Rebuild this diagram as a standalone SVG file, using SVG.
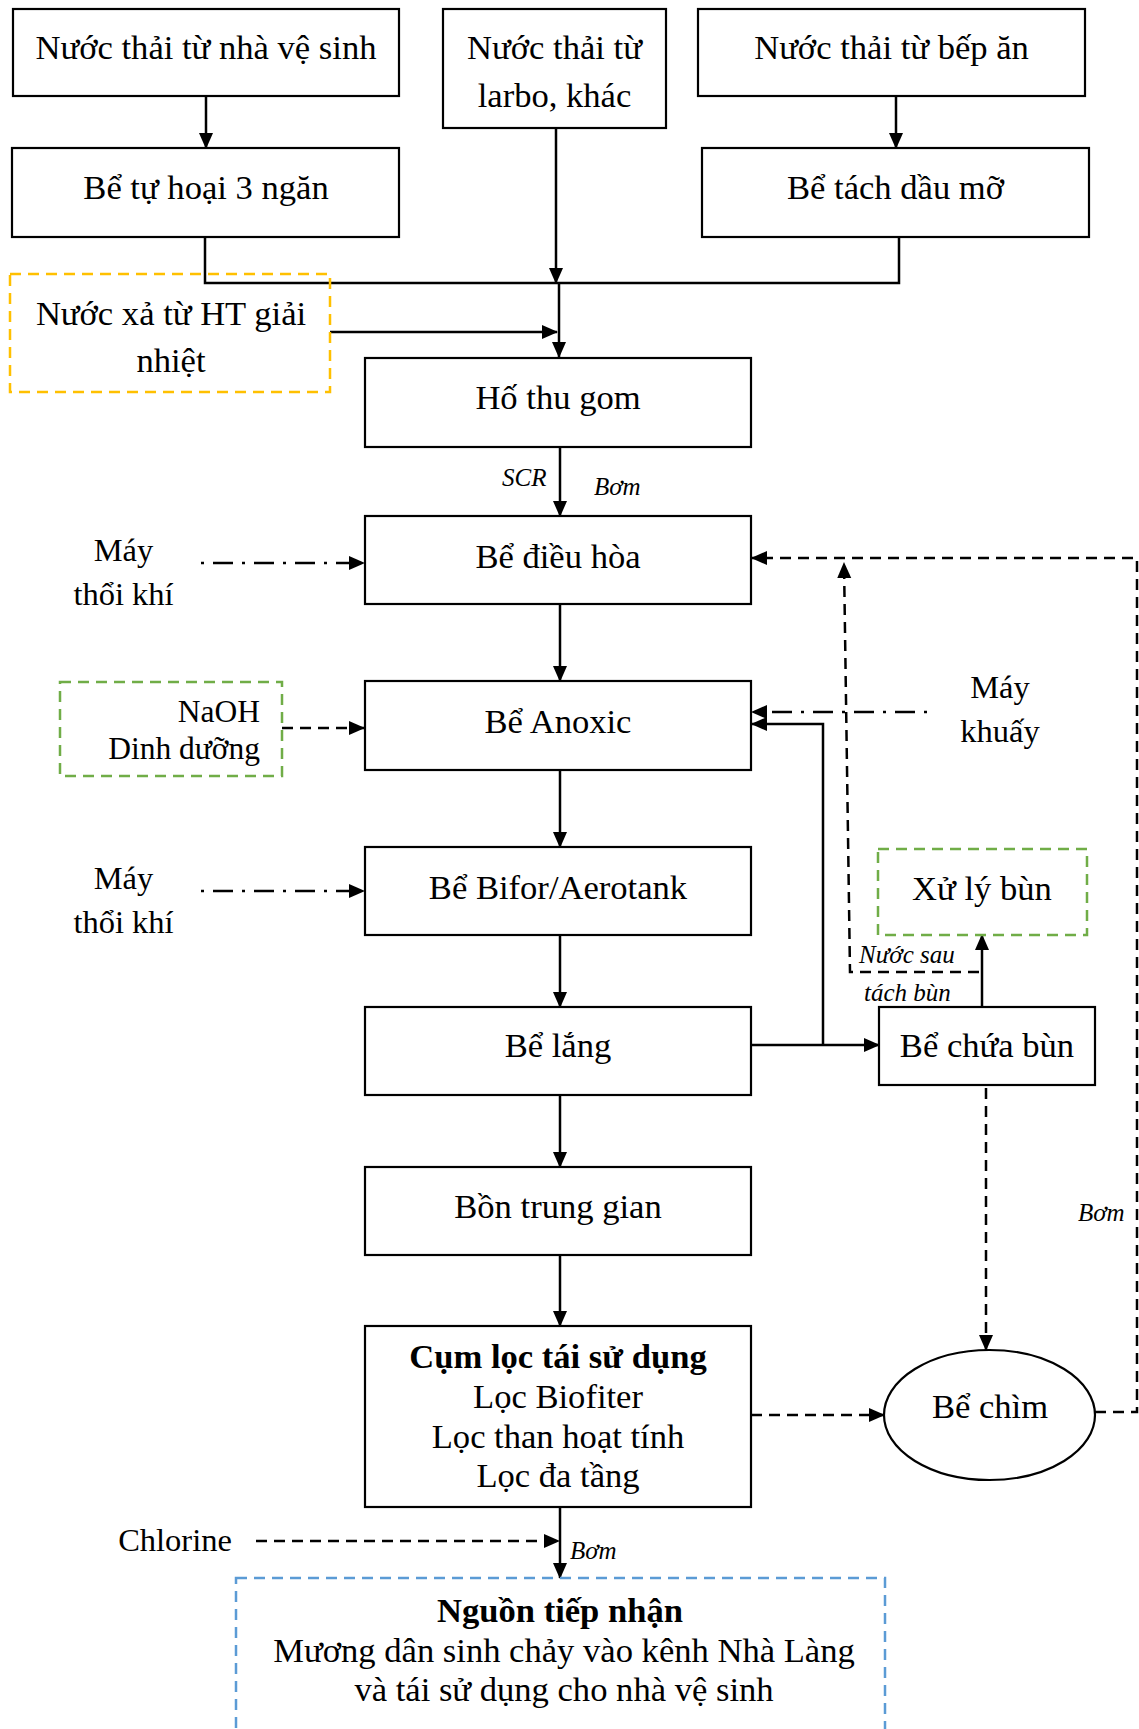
<svg xmlns="http://www.w3.org/2000/svg" width="1139" height="1729" viewBox="0 0 1139 1729">
<defs>
<marker id="ah" markerUnits="userSpaceOnUse" markerWidth="16" markerHeight="16" refX="15" refY="8" orient="auto">
<path d="M0,1 L16,8 L0,15 z" fill="#000"/>
</marker>
<style>
.box{fill:#fff;stroke:#000;stroke-width:2.2}
.t{font-family:"Liberation Serif","Times New Roman",serif;font-size:34.6px;fill:#000;text-anchor:middle}
.s{font-size:32.5px}
.n{font-size:31.5px}
.b{font-weight:bold}
.i{font-family:"Liberation Serif","Times New Roman",serif;font-size:25px;font-style:italic;fill:#000}
.c{fill:none;stroke:#000;stroke-width:2.5}
.a{marker-end:url(#ah)}
.d{stroke-dasharray:11 7}
.dd{stroke-dasharray:3 9 20 9}
.yel{fill:none;stroke:#ffc000;stroke-width:2.5;stroke-dasharray:11 7}
.grn{fill:none;stroke:#70ad47;stroke-width:2.5;stroke-dasharray:11 7}
.blu{fill:none;stroke:#5b9bd5;stroke-width:2.5;stroke-dasharray:11 7}
</style>
</defs>
<rect width="1139" height="1729" fill="#fff"/>

<g id="connectors">
<path class="c a" d="M206,97 V148"/>
<path class="c a" d="M896,97 V148"/>
<path class="c a" d="M556,128 V283"/>
<path class="c a" d="M559,283 V357"/>
<path class="c" d="M205,237 V283 H899 V237"/>
<path class="c a" d="M330,332 H557"/>
<path class="c a" d="M560,447 V516"/>
<path class="c a" d="M560,604 V681"/>
<path class="c a" d="M560,770 V847"/>
<path class="c a" d="M560,935 V1007"/>
<path class="c a" d="M560,1095 V1167"/>
<path class="c a" d="M560,1255 V1326"/>
<path class="c a" d="M560,1507 V1578"/>
<path class="c d a" d="M256,1541 H559"/>
<path class="c dd a" d="M201,563 H364"/>
<path class="c dd a" d="M201,891 H364"/>
<path class="c d a" d="M282,728 H364"/>
<path class="c dd a" d="M927,712 H752"/>
<path class="c a" d="M751,1045 H879"/>
<path class="c a" d="M823,1045 V724 H752"/>
<path class="c a" d="M982,1007 V935"/>
<path class="c d a" d="M979,972 H850 L844,563"/>
<path class="c d a" d="M986,1088 V1350"/>
<path class="c d a" d="M751,1415 H884"/>
<path class="c d a" d="M1095,1412 H1137 V558 H752"/>
</g>

<g id="n1"><rect class="box" x="13" y="9" width="386" height="87"/><text class="t" x="206" y="59">Nước thải từ nhà vệ sinh</text></g>
<g id="n2"><rect class="box" x="443" y="9" width="223" height="119"/><text class="t" x="554.5" y="59">Nước thải từ</text><text class="t" x="554.5" y="107">larbo, khác</text></g>
<g id="n3"><rect class="box" x="698" y="9" width="387" height="87"/><text class="t" x="891.5" y="59">Nước thải từ bếp ăn</text></g>
<g id="n4"><rect class="box" x="12" y="148" width="387" height="89"/><text class="t" x="206" y="199">Bể tự hoại 3 ngăn</text></g>
<g id="n5"><rect class="box" x="702" y="148" width="387" height="89"/><text class="t" x="895.5" y="199">Bể tách dầu mỡ</text></g>
<g id="n6"><rect class="yel" x="10" y="274" width="320" height="118"/><text class="t" x="171" y="325">Nước xả từ HT giải</text><text class="t" x="171" y="372">nhiệt</text></g>
<g id="n7"><rect class="box" x="365" y="358" width="386" height="89"/><text class="t" x="558" y="409">Hố thu gom</text></g>
<g id="n8"><rect class="box" x="365" y="516" width="386" height="88"/><text class="t" x="558" y="568">Bể điều hòa</text></g>
<g id="n9"><rect class="box" x="365" y="681" width="386" height="89"/><text class="t" x="558" y="733">Bể Anoxic</text></g>
<g id="n10"><rect class="box" x="365" y="847" width="386" height="88"/><text class="t" x="558" y="899">Bể Bifor/Aerotank</text></g>
<g id="n11"><rect class="box" x="365" y="1007" width="386" height="88"/><text class="t" x="558" y="1057">Bể lắng</text></g>
<g id="n12"><rect class="box" x="365" y="1167" width="386" height="88"/><text class="t" x="558" y="1218">Bồn trung gian</text></g>
<g id="n13"><rect class="box" x="365" y="1326" width="386" height="181"/><text class="t b" x="558" y="1368">Cụm lọc tái sử dụng</text><text class="t" x="558" y="1408">Lọc Biofiter</text><text class="t" x="558" y="1448">Lọc than hoạt tính</text><text class="t" x="558" y="1487">Lọc đa tầng</text></g>
<g id="n14"><rect class="blu" x="236" y="1578" width="649" height="200"/><text class="t b" x="560" y="1622">Nguồn tiếp nhận</text><text class="t" x="564" y="1662">Mương dân sinh chảy vào kênh Nhà Làng</text><text class="t" x="564" y="1701">và tái sử dụng cho nhà vệ sinh</text></g>
<g id="n15"><rect class="box" x="879" y="1007" width="216" height="78"/><text class="t" x="987" y="1057">Bể chứa bùn</text></g>
<g id="n16"><rect class="grn" x="878" y="849" width="209" height="86"/><text class="t" x="982" y="900">Xử lý bùn</text></g>
<g id="n17"><ellipse cx="989.5" cy="1415" rx="105.5" ry="65" fill="#fff" stroke="#000" stroke-width="2.2"/><text class="t" x="990" y="1418">Bể chìm</text></g>
<g id="n18"><rect class="grn" x="60" y="682" width="222" height="94"/><text class="t n" x="260" y="722" style="text-anchor:end">NaOH</text><text class="t n" x="260" y="759" style="text-anchor:end">Dinh dưỡng</text></g>
<g id="n19"><text class="t s" x="123.5" y="561">Máy</text><text class="t s" x="123.5" y="605">thổi khí</text></g>
<g id="n20"><text class="t s" x="123.5" y="889">Máy</text><text class="t s" x="123.5" y="933">thổi khí</text></g>
<g id="n21"><text class="t s" x="1000" y="698">Máy</text><text class="t s" x="1000" y="742">khuấy</text></g>
<g id="n22"><text class="t s" x="175" y="1551">Chlorine</text></g>

<g id="labels">
<text class="i" x="502" y="486">SCR</text>
<text class="i" x="594" y="495">Bơm</text>
<text class="i" x="859" y="963">Nước sau</text>
<text class="i" x="864" y="1001">tách bùn</text>
<text class="i" x="1078" y="1221">Bơm</text>
<text class="i" x="570" y="1559">Bơm</text>
</g>
</svg>
